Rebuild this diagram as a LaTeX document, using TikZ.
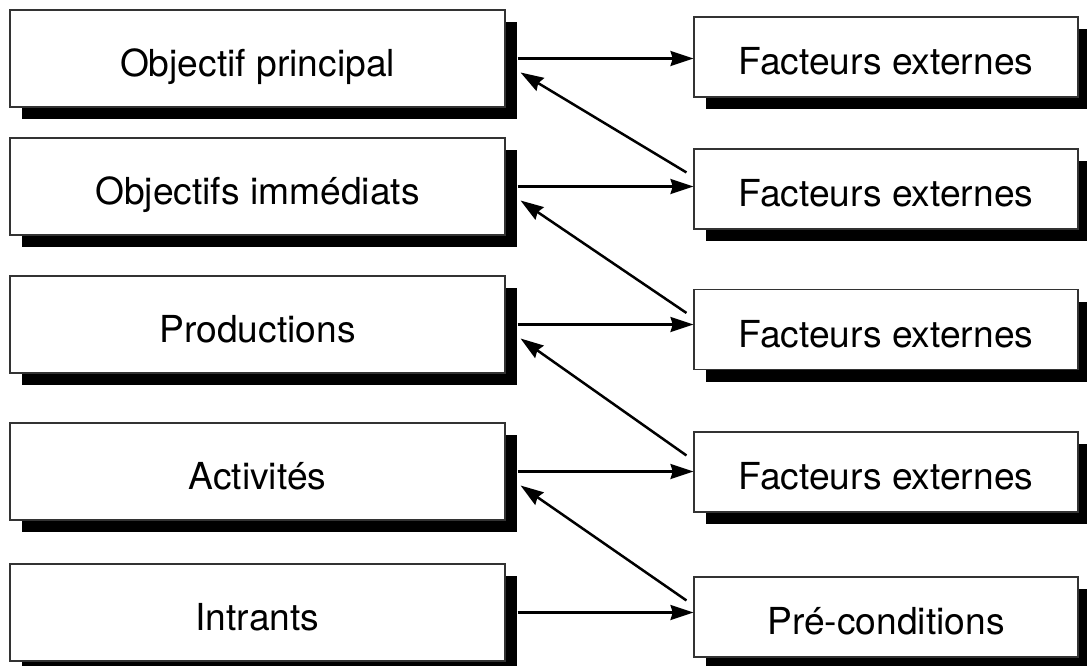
\documentclass[tikz,border=0pt]{standalone}
\usepackage{fontspec}
\setmainfont{TeX Gyre Heros}
\usetikzlibrary{shadows,arrows.meta}

\tikzset{
  box/.style={draw=black!80, line width=0.55pt, fill=white, inner sep=0pt,
    font=\fontsize{18.6}{22}\selectfont, text height=17.5pt, text depth=0pt,
    drop shadow={shadow xshift=6pt, shadow yshift=-6pt, fill=black, opacity=1}},
  levelbox/.style={box, minimum width=247.5pt, minimum height=48.5pt},
  factorbox/.style={box, minimum width=192pt, minimum height=40pt},
  link/.style={line width=1.25pt, -{Stealth[length=11.5pt, width=7.5pt, inset=1.2pt]}}
}

\begin{document}
\begin{tikzpicture}[x=0.5pt, y=-0.5pt]
  \useasboundingbox (0,0) rectangle (1087,665);

  % logical framework levels
  \node[levelbox] (L1) at (257.5, 58.5)  {Objectif principal};
  \node[levelbox] (L2) at (257.5, 186.5) {Objectifs immédiats};
  \node[levelbox] (L3) at (257.5, 324.5) {Productions};
  \node[levelbox] (L4) at (257.5, 471.5) {Activités};
  \node[levelbox] (L5) at (257.5, 612.5) {Intrants};

  % assumptions at each level
  \node[factorbox] (R1) at (886, 57)    {Facteurs externes};
  \node[factorbox] (R2) at (886, 189)   {Facteurs externes};
  \node[factorbox] (R3) at (886, 329.5) {Facteurs externes};
  \node[factorbox] (R4) at (886, 472)   {Facteurs externes};
  \node[factorbox] (R5) at (886, 617)   {Pré-conditions};

  % level -> assumption
  \foreach \k in {1,...,5}{
    \draw[link] ([xshift=6pt]L\k.east) -- (L\k.east -| R\k.west);
  }

  % assumption -> next level up
  \foreach \k/\u in {2/1,3/2,4/3,5/4}{
    \draw[link] ([shift={(-7,24)}]R\k.north west) -- ([shift={(15,14)}]L\u.east);
  }
\end{tikzpicture}
\end{document}
